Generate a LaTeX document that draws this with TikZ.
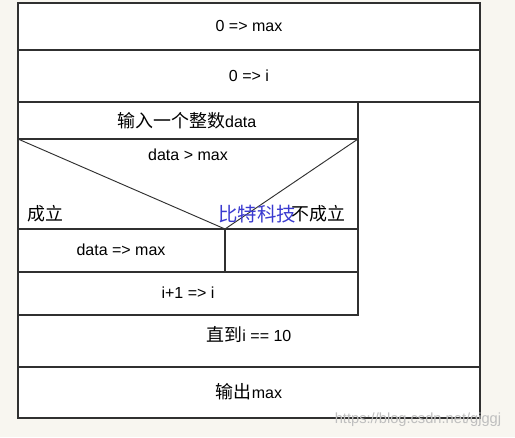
\documentclass[tikz,border=0pt]{standalone}
\usepackage{fontspec}
\setmainfont{Liberation Sans}
\newfontfamily\cjk{Noto Sans CJK SC}[Scale=1.12]
\usetikzlibrary{positioning}
\definecolor{pagebg}{HTML}{F8F6F0}
\definecolor{linegray}{HTML}{303030}
\definecolor{markblue}{HTML}{3A3AD0}
\tikzset{
  boxline/.style={draw=linegray, line width=0.9pt},
  boxtext/.style={inner sep=0pt, font=\fontsize{12}{14}\selectfont},
  marktext/.style={inner sep=0pt, text=markblue, font=\fontsize{13}{16}\selectfont\cjk},
  webmark/.style={inner sep=0pt, text=black!25, font=\fontsize{11}{13}\selectfont}
}

\begin{document}
\begin{tikzpicture}[x=0.75pt, y=-0.75pt]

% Background
\fill[pagebg] (0,0) rectangle (515,437);
\fill[white] (18,3) rectangle (480,418);

% Corners
\coordinate (TL) at (18,3);
\coordinate (BR) at (480,418);
\coordinate (L1) at (18,50);   \coordinate (R1) at (480,50);
\coordinate (L2) at (18,102);  \coordinate (R2) at (480,102);
\coordinate (L3) at (18,139);  \coordinate (R3) at (358,139);
\coordinate (L4) at (18,229);  \coordinate (R4) at (358,229);
\coordinate (L5) at (18,272);  \coordinate (R5) at (358,272);
\coordinate (L6) at (18,315);  \coordinate (R6) at (358,315);
\coordinate (L7) at (18,367);  \coordinate (R7) at (480,367);
\coordinate (apex) at (225,229);
\coordinate (split) at (225,272);

% Frames
\draw[boxline] (TL) rectangle (BR);
\draw[boxline] (L1) -- (R1);
\draw[boxline] (L2) -- (R2);
\draw[boxline] (L2) rectangle (R6);
\draw[boxline] (L3) -- (R3);
\draw[boxline] (L4) -- (R4);
\draw[boxline] (L5) -- (R5);
\draw[boxline] (L7) -- (R7);
\draw[boxline] (apex) -- (split);
\draw[boxline, line width=0.7pt] (L3) -- (apex) -- (R3);

% Texts
\node[boxtext] (initmax) at (249,26) {0 => max};
\node[boxtext] (initi) at (249,76) {0 => i};
\node[boxtext] (readdata) at (187,121) {{\cjk 输入一个整数}data};
\node[boxtext] (cond) at (188,155) {data > max};
\node[boxtext, anchor=west] (yes) at (27,214) {\cjk 成立};
\node[boxtext, anchor=east] (no) at (346,214) {\cjk 不成立};
\node[marktext, anchor=west] (brand) at (218,214) {比特科技};
\node[boxtext] (setmax) at (121,250) {data => max};
\node[boxtext] (incr) at (188,293) {i+1 => i};
\node[boxtext] (until) at (249,334) {{\cjk 直到}i == 10};
\node[boxtext] (output) at (249,392) {{\cjk 输出}max};
\node[webmark] (site) at (418,420) {https://blog.csdn.net/gjggj};

\end{tikzpicture}
\end{document}
